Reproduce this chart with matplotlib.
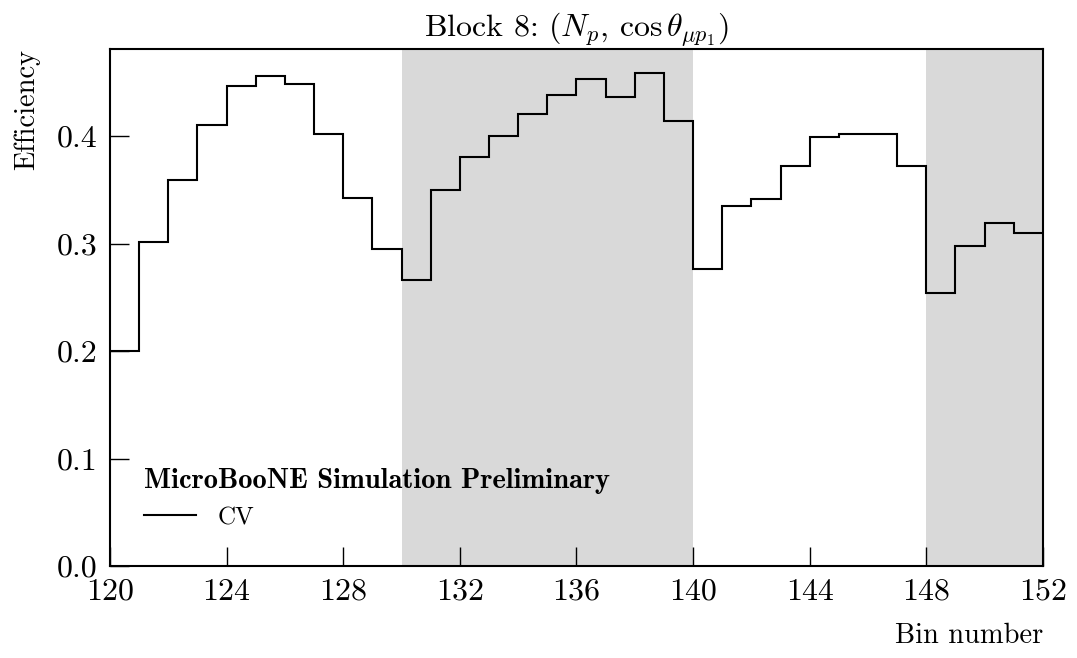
import matplotlib
matplotlib.use("Agg")
import matplotlib.pyplot as plt
from matplotlib.font_manager import FontProperties
import numpy as np

plt.rcParams['font.family'] = 'serif'
plt.rcParams['font.serif'] = ['cmr10']
plt.rcParams['mathtext.fontset'] = 'cm'
plt.rcParams['axes.formatter.use_mathtext'] = True

# bin edges and CV efficiency per bin
bin_edges = np.arange(120, 153)
efficiency = [0.200, 0.301, 0.359, 0.410, 0.447, 0.456, 0.448, 0.402,
              0.342, 0.295, 0.266, 0.350, 0.381, 0.400, 0.421, 0.438,
              0.453, 0.436, 0.459, 0.414, 0.276, 0.335, 0.341, 0.372,
              0.399, 0.4015, 0.402, 0.372, 0.254, 0.298, 0.319, 0.310]
shaded_blocks = [(130, 140), (148, 152)]
xticks = [120, 124, 128, 132, 136, 140, 144, 148, 152]
yticks = [0.0, 0.1, 0.2, 0.3, 0.4]

fig = plt.figure(figsize=(10.77, 6.58), dpi=100)
ax = fig.add_axes([0.1021, 0.1398, 0.8663, 0.7857])

for lo, hi in shaded_blocks:
    ax.axvspan(lo, hi, color='#d9d9d9', lw=0, zorder=0)

ax.stairs(efficiency, bin_edges, baseline=None, color='black', lw=1.5,
          label='CV', zorder=2)

ax.set_xlim(120, 152)
ax.set_ylim(0, 0.481)
ax.set_xticks(xticks)
ax.set_yticks(yticks)
ax.set_xticklabels([str(t) for t in xticks])
ax.set_yticklabels(['%.1f' % t for t in yticks])
ax.tick_params(direction='in', length=13.5, width=1.0, labelsize=23,
               top=False, right=False)
ax.tick_params(axis='y', pad=9)
ax.tick_params(axis='x', pad=9)
for sp in ax.spines.values():
    sp.set_linewidth(1.5)

ax.set_title(r'Block 8: $(N_p,\, \cos\theta_{\mu p_1})$', fontsize=23, pad=6)
ax.set_ylabel('Efficiency', loc='top', fontsize=20.5, labelpad=12)
ax.set_xlabel('Bin number', loc='right', fontsize=20.5, labelpad=12)

title_font = FontProperties(family='cmb10', size=20.5)
leg = ax.legend(loc='lower left', bbox_to_anchor=(0.012, 0.028), frameon=False,
                fontsize=18, handlelength=2.1, handletextpad=0.85,
                title='MicroBooNE Simulation Preliminary',
                title_fontproperties=title_font, alignment='left')

fig.savefig('out.png', dpi=100)
